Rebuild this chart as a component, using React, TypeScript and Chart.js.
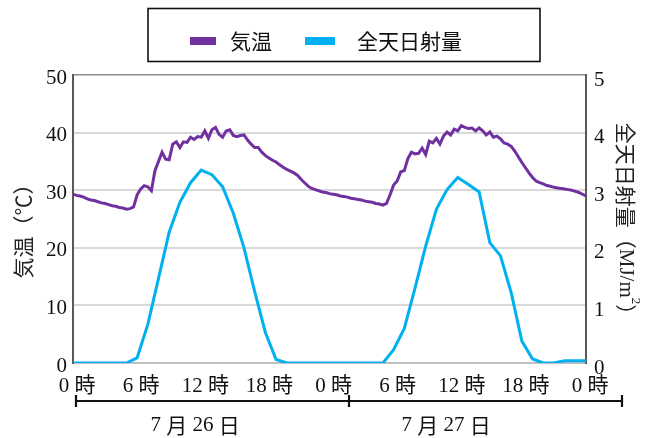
import React, { useEffect, useRef } from "react";
import { Chart, registerables } from "chart.js";

Chart.register(...registerables);

// Series and label text
const SERIES_NAMES = ["気温", "全天日射量"];
const LEFT_TITLE = "気温（℃）";
const RIGHT_TITLE_MAIN = "全天日射量（MJ/m";
const RIGHT_TITLE_SUP = "2";
const RIGHT_TITLE_END = "）";
const DAY_LABELS = ["7 月 26 日", "7 月 27 日"];
const HOUR_SUFFIX = " 時";

// Air temperature (°C), one reading every 20 minutes from 0:00 on 7/26 to 0:00 on 7/28
const TEMP_STEP_HOURS = 1 / 3;
const temperature = [
  29.3, 29.1, 29.0, 28.8, 28.5, 28.3, 28.2, 28.0, 27.8, 27.7, 27.5, 27.3,
  27.2, 27.0, 26.9, 26.7, 26.8, 27.1, 29.2, 30.2, 30.8, 30.6, 29.9, 33.4,
  35.0, 36.6, 35.4, 35.3, 38.0, 38.4, 37.4, 38.4, 38.3, 39.2, 38.8, 39.3,
  39.2, 40.3, 39.0, 40.5, 40.9, 39.7, 39.2, 40.3, 40.5, 39.5, 39.3, 39.5,
  39.6, 38.7, 38.0, 37.4, 37.4, 36.6, 36.0, 35.6, 35.2, 34.9, 34.4, 34.0,
  33.6, 33.3, 33.0, 32.6, 31.9, 31.3, 30.7, 30.3, 30.1, 29.9, 29.7, 29.6,
  29.4, 29.3, 29.2, 29.0, 28.9, 28.8, 28.6, 28.5, 28.4, 28.3, 28.1, 28.0,
  27.9, 27.7, 27.6, 27.4, 27.7, 29.2, 30.9, 31.6, 33.2, 33.4, 35.5, 36.6,
  36.3, 36.4, 37.3, 36.2, 38.5, 38.2, 39.0, 38.0, 39.4, 40.1, 39.6, 40.6,
  40.3, 41.2, 40.9, 40.7, 40.8, 40.3, 40.8, 40.3, 39.6, 40.1, 39.2, 39.4,
  38.9, 38.2, 38.0, 37.6, 36.8, 35.8, 34.8, 33.9, 33.0, 32.2, 31.6, 31.3,
  31.1, 30.8, 30.7, 30.5, 30.4, 30.3, 30.2, 30.1, 30.0, 29.8, 29.6, 29.3,
  29.0,
];

// Global solar radiation (MJ/m²), hourly from 0:00 on 7/26 to 0:00 on 7/28
const solarRadiation = [
  0, 0, 0, 0, 0, 0, 0.09, 0.67, 1.47, 2.27, 2.79, 3.13,
  3.35, 3.27, 3.06, 2.6, 2.0, 1.24, 0.53, 0.06, 0, 0, 0, 0,
  0, 0, 0, 0, 0, 0, 0.23, 0.6, 1.3, 2.03, 2.67, 3.01,
  3.22, 3.1, 2.97, 2.09, 1.86, 1.22, 0.38, 0.07, 0, 0, 0.04, 0.04,
  0.04,
];

// Axis ranges
const TEMP_MAX = 50;
const TEMP_STEP = 10;
const SOLAR_MAX = 5;
const SOLAR_STEP = 1;
const HOURS_TOTAL = 48;
const HOUR_TICK_STEP = 6;

const TEMP_COLOR = "#7030A0";
const SOLAR_COLOR = "#00B0F0";
const NUM_FONT = "'Liberation Serif', 'Noto Sans CJK JP', serif";
const CJK_FONT = "'Noto Sans CJK JP', 'Liberation Serif', sans-serif";

const W = 653;
const H = 438;

const overlay = {
  id: "overlay",
  afterDraw(chart: any) {
    const ctx = chart.ctx as CanvasRenderingContext2D;
    const xs = chart.scales.x;
    ctx.save();

    // Legend box
    ctx.strokeStyle = "#111";
    ctx.lineWidth = 1.6;
    ctx.strokeRect(148, 8.5, 392, 53);
    ctx.fillStyle = TEMP_COLOR;
    ctx.fillRect(190, 37, 26, 8);
    ctx.fillStyle = SOLAR_COLOR;
    ctx.fillRect(305, 37, 30, 8);
    ctx.fillStyle = "#111";
    ctx.font = `21px ${CJK_FONT}`;
    ctx.textBaseline = "middle";
    ctx.textAlign = "left";
    ctx.fillText(SERIES_NAMES[0], 230, 41);
    ctx.fillText(SERIES_NAMES[1], 357, 41);

    // Left axis title, reading bottom to top
    ctx.save();
    ctx.translate(23, 226);
    ctx.rotate(-Math.PI / 2);
    ctx.textAlign = "center";
    ctx.font = `21px ${CJK_FONT}`;
    ctx.fillStyle = "#222";
    ctx.fillText(LEFT_TITLE, 0, 0);
    ctx.restore();

    // Right axis title, reading top to bottom, with superscript
    ctx.save();
    ctx.translate(626, 224);
    ctx.rotate(Math.PI / 2);
    ctx.fillStyle = "#222";
    ctx.textAlign = "left";
    ctx.font = `21px ${NUM_FONT}`;
    const cjkPart = "全天日射量（";
    const latinPart = RIGHT_TITLE_MAIN.slice(cjkPart.length);
    ctx.font = `21px ${CJK_FONT}`;
    const w1 = ctx.measureText(cjkPart).width;
    ctx.font = `21px ${NUM_FONT}`;
    const w2 = ctx.measureText(latinPart).width;
    ctx.font = `13px ${NUM_FONT}`;
    const w3 = ctx.measureText(RIGHT_TITLE_SUP).width;
    ctx.font = `21px ${CJK_FONT}`;
    const w4 = ctx.measureText(RIGHT_TITLE_END).width;
    let x = -(w1 + w2 + w3 + w4) / 2;
    ctx.font = `21px ${CJK_FONT}`;
    ctx.fillText(cjkPart, x, 0);
    x += w1;
    ctx.font = `21px ${NUM_FONT}`;
    ctx.fillText(latinPart, x, 0);
    x += w2;
    ctx.font = `13px ${NUM_FONT}`;
    ctx.fillText(RIGHT_TITLE_SUP, x, -9);
    x += w3;
    ctx.font = `21px ${CJK_FONT}`;
    ctx.fillText(RIGHT_TITLE_END, x, 0);
    ctx.restore();

    // Day bracket under the hour labels
    const x0 = xs.getPixelForValue(0) + 3;
    const xEnd = 622;
    const xMid = 349;
    const yb = 401;
    ctx.strokeStyle = "#111";
    ctx.lineWidth = 2.2;
    ctx.beginPath();
    ctx.moveTo(x0, yb);
    ctx.lineTo(xEnd, yb);
    for (const px of [x0, xMid, xEnd]) {
      ctx.moveTo(px, yb - 6);
      ctx.lineTo(px, yb + 6);
    }
    ctx.stroke();

    ctx.fillStyle = "#111";
    ctx.textAlign = "center";
    ctx.textBaseline = "middle";
    const dayCenters = [195, 446];
    DAY_LABELS.forEach((label, i) => {
      drawMixed(ctx, label, dayCenters[i], 425, 21);
    });

    ctx.restore();
  },
};

// Draws text where digits use the serif face and CJK characters the CJK face
function drawMixed(
  ctx: CanvasRenderingContext2D,
  text: string,
  cx: number,
  cy: number,
  size: number
) {
  const parts: { s: string; cjk: boolean }[] = [];
  for (const ch of text) {
    const cjk = ch.charCodeAt(0) > 0x2000;
    const last = parts[parts.length - 1];
    if (last && last.cjk === cjk) last.s += ch;
    else parts.push({ s: ch, cjk });
  }
  const widths = parts.map((p) => {
    ctx.font = `${size}px ${p.cjk ? CJK_FONT : NUM_FONT}`;
    return ctx.measureText(p.s).width;
  });
  let x = cx - widths.reduce((a, b) => a + b, 0) / 2;
  ctx.textAlign = "left";
  parts.forEach((p, i) => {
    ctx.font = `${size}px ${p.cjk ? CJK_FONT : NUM_FONT}`;
    ctx.fillText(p.s, x, cy);
    x += widths[i];
  });
}

export default function App() {
  const canvasRef = useRef<HTMLCanvasElement | null>(null);

  useEffect(() => {
    document.body.style.margin = "0";
    const canvas = canvasRef.current;
    if (!canvas) return;

    const tempPoints = temperature.map((v, i) => ({ x: i * TEMP_STEP_HOURS, y: v }));
    const solarPoints = solarRadiation.map((v, i) => ({ x: i, y: v }));

    const chart = new Chart(canvas, {
      type: "line",
      data: {
        datasets: [
          {
            label: SERIES_NAMES[1],
            data: solarPoints,
            yAxisID: "y2",
            borderColor: SOLAR_COLOR,
            borderWidth: 3,
            pointRadius: 0,
            tension: 0,
            fill: false,
          },
          {
            label: SERIES_NAMES[0],
            data: tempPoints,
            yAxisID: "y",
            borderColor: TEMP_COLOR,
            borderWidth: 3,
            pointRadius: 0,
            tension: 0,
            fill: false,
          },
        ],
      },
      options: {
        responsive: false,
        animation: false,
        layout: { padding: { top: 75, left: 0, right: 0, bottom: 0 } },
        plugins: {
          legend: { display: false },
          tooltip: { enabled: false },
        },
        scales: {
          x: {
            type: "linear",
            min: 0,
            max: HOURS_TOTAL,
            grid: { display: false, drawTicks: false },
            border: { display: false },
            afterFit: (s: any) => {
              s.height = 75;
            },
            ticks: {
              stepSize: HOUR_TICK_STEP,
              padding: 11,
              labelOffset: 4,
              maxRotation: 0,
              autoSkip: false,
              color: "#111",
              font: { size: 21, family: NUM_FONT },
              callback: (v: any) => `${Number(v) % 24}${HOUR_SUFFIX}`,
            },
          },
          y: {
            position: "left",
            min: 0,
            max: TEMP_MAX,
            afterFit: (s: any) => {
              s.width = 73;
            },
            border: { color: "#595959", width: 2 },
            grid: {
              drawTicks: false,
              color: (c: any) =>
                c.tick.value === TEMP_MAX ? "#8c8c8c" : c.tick.value === 0 ? "#bfbfbf" : "#d9d9d9",
              lineWidth: (c: any) => (c.tick.value === TEMP_MAX ? 1.5 : 2),
            },
            ticks: {
              stepSize: TEMP_STEP,
              padding: 6,
              labelOffset: 3,
              color: "#111",
              font: { size: 21, family: NUM_FONT },
            },
          },
          y2: {
            position: "right",
            min: 0,
            max: SOLAR_MAX,
            afterFit: (s: any) => {
              s.width = W - 586;
            },
            border: { color: "#595959", width: 2 },
            grid: { drawOnChartArea: false, drawTicks: false },
            ticks: {
              stepSize: SOLAR_STEP,
              padding: 8,
              labelOffset: 5,
              color: "#111",
              font: { size: 21, family: NUM_FONT },
            },
          },
        },
      },
      plugins: [overlay],
    });

    return () => chart.destroy();
  }, []);

  return (
    <div style={{ position: "fixed", left: 0, top: 0, width: W, height: H, background: "#fff" }}>
      <canvas ref={canvasRef} width={W} height={H} />
    </div>
  );
}
